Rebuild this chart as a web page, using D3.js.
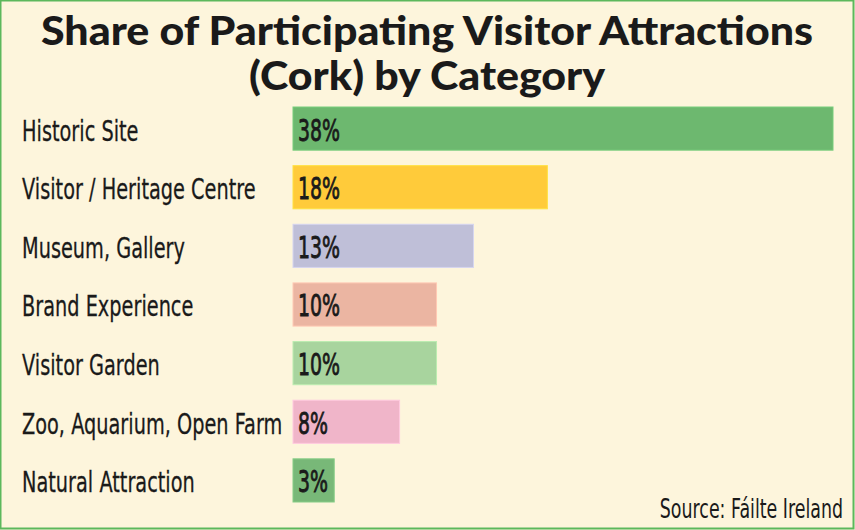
<!DOCTYPE html>
<html>
<head>
<meta charset="utf-8">
<script src="https://cdn.jsdelivr.net/npm/d3@7"></script>
<style>
  html, body { margin: 0; padding: 0; background: #fdf5dc; }
  svg { display: block; }
</style>
</head>
<body>
<div id="chart"></div>
<script>
// categories and shares (labels shown rounded)
const categories = [
    "Historic Site",
    "Visitor / Heritage Centre",
    "Museum, Gallery",
    "Brand Experience",
    "Visitor Garden",
    "Zoo, Aquarium, Open Farm",
    "Natural Attraction"
];
const shares = [38, 17.9, 12.7, 10.1, 10.1, 7.5, 2.9];
const barColors = ["#6db86f", "#ffcb3a", "#bfbfd8", "#ebb5a2", "#a8d49e", "#f0b5c9", "#78b878"];
const titleLines = ["Share of Participating Visitor Attractions", "(Cork) by Category"];
const sourceText = "Source: Fáilte Ireland";

const width = 855, height = 530;
// no condensed face installed, so squeeze DejaVu horizontally
const labelFont = "'DejaVu Sans', sans-serif";

const svg = d3.select("#chart").append("svg")
    .attr("width", width)
    .attr("height", height);

// background + frame
svg.append("rect")
    .attr("x", 0.5).attr("y", 0.5)
    .attr("width", width - 2).attr("height", height - 2)
    .attr("fill", "#fdf5dc")
    .attr("stroke", "#5cb85c")
    .attr("stroke-width", 2);

// title (Lato black stretched a bit to get the Futura width)
svg.append("g")
    .attr("transform", "translate(427,0) scale(1.1,1)")
    .selectAll("text")
    .data(titleLines)
    .join("text")
    .attr("x", 0)
    .attr("y", (d, i) => 45 + i * 45)
    .attr("text-anchor", "middle")
    .attr("font-family", "Lato, 'DejaVu Sans', sans-serif")
    .attr("font-weight", 900)
    .attr("font-size", 39)
    .attr("fill", "#1a1a1a")
    .text(d => d);

// scales
const x = d3.scaleLinear()
    .domain([0, 38])
    .range([293, 833]);

const y = d3.scaleBand()
    .domain(categories)
    .range([107, 502])
    .paddingInner(0.264)
    .paddingOuter(0);

const rows = categories.map((c, i) => ({ cat: c, val: shares[i], color: barColors[i] }));
const baseline = d => y(d.cat) + y.bandwidth() / 2 + 12;

// bars
svg.append("g").selectAll("rect")
    .data(rows)
    .join("rect")
    .attr("x", x(0))
    .attr("y", d => y(d.cat))
    .attr("width", d => x(d.val) - x(0))
    .attr("height", y.bandwidth())
    .attr("fill", d => d.color)
    .attr("stroke", d => d3.color(d.color).brighter(0.3))
    .attr("stroke-width", 1);

// value labels inside bars
svg.append("g")
    .attr("transform", `translate(${x(0) + 5},0) scale(0.63,1)`)
    .selectAll("text")
    .data(rows)
    .join("text")
    .attr("x", 0)
    .attr("y", baseline)
    .attr("font-family", labelFont)
    .attr("font-size", 30)
    .attr("fill", "#1a1a1a")
    .attr("stroke", "#1a1a1a")
    .attr("stroke-width", 0.9)
    .text(d => Math.round(d.val) + "%");

// category labels
svg.append("g")
    .attr("transform", "translate(22,0) scale(0.69,1)")
    .selectAll("text")
    .data(rows)
    .join("text")
    .attr("x", 0)
    .attr("y", baseline)
    .attr("font-family", labelFont)
    .attr("font-size", 28)
    .attr("fill", "#1a1a1a")
    .attr("stroke", "#1a1a1a")
    .attr("stroke-width", 0.3)
    .text(d => d.cat);

// source
svg.append("g")
    .attr("transform", "translate(843,0) scale(0.67,1)")
    .append("text")
    .attr("x", 0)
    .attr("y", 518)
    .attr("text-anchor", "end")
    .attr("font-family", labelFont)
    .attr("font-size", 26)
    .attr("fill", "#1a1a1a")
    .text(sourceText);
</script>
</body>
</html>
